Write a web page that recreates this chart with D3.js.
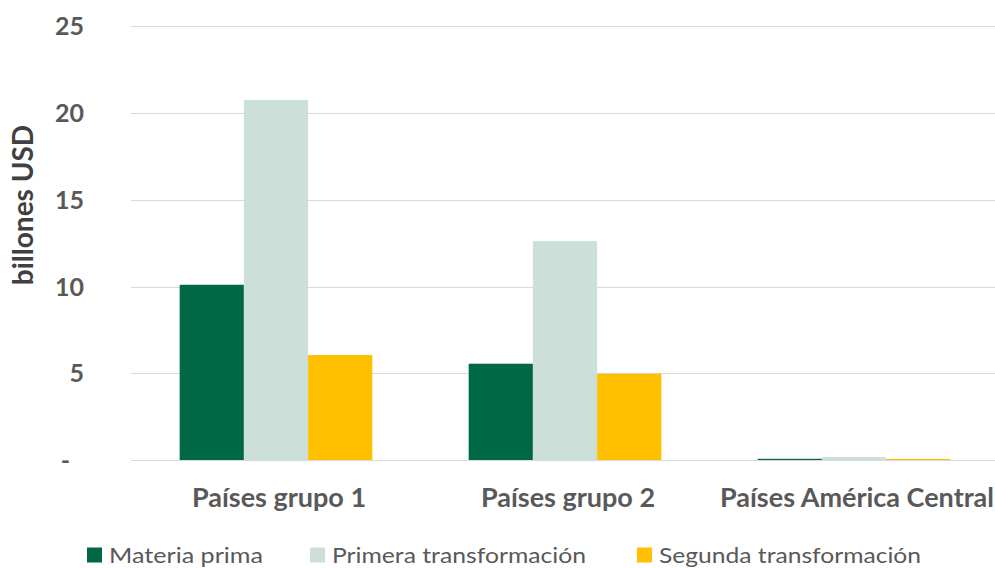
<!DOCTYPE html>
<html><head><meta charset="utf-8">
<script src="https://cdn.jsdelivr.net/npm/d3@7"></script>
<style>body{margin:0;background:#fff}svg{display:block}text{font-family:Lato,"Open Sans",sans-serif}</style>
</head><body><svg id="c" width="995" height="568"></svg>
<script>
const categories = ["Países grupo 1", "Países grupo 2", "Países América Central"];
const seriesNames = ["Materia prima", "Primera transformación", "Segunda transformación"];
const materiaPrima = [10.1, 5.55, 0.07];
const primeraTransformacion = [20.75, 12.62, 0.17];
const segundaTransformacion = [6.05, 4.97, 0.06];
const yTicks = [0, 5, 10, 15, 20, 25];
const colors = ["#006845", "#CCE0D9", "#FFC000"];

const series = [materiaPrima, primeraTransformacion, segundaTransformacion];
const svg = d3.select("#c");
const x0 = d3.scaleBand().domain(categories).range([131.5, 998.5]).paddingInner(0).paddingOuter(0);
const y = d3.scaleLinear().domain([0, 25]).range([460, 26.25]);
const bw = x0.bandwidth() / 4.5;

// grid
svg.append("g").selectAll("line").data(yTicks).join("line")
  .attr("x1", 131).attr("x2", 995)
  .attr("y1", d => Math.round(y(d)) + 0.5).attr("y2", d => Math.round(y(d)) + 0.5)
  .attr("stroke", "#D9D9D9").attr("stroke-width", 1);

// y tick labels
svg.append("g").selectAll("text").data(yTicks).join("text")
  .attr("x", d => d === 0 ? 70 : 84).attr("y", d => y(d)).attr("dy", "0.36em")
  .attr("text-anchor", "end").attr("font-size", 25).attr("font-weight", "bold").attr("fill", "#595959")
  .text(d => d === 0 ? "-" : d);

// y title
svg.append("text").attr("transform", "translate(33,205) rotate(-90)")
  .attr("text-anchor", "middle").attr("font-size", 28).attr("font-weight", "bold").attr("fill", "#404040")
  .text("billones USD");

// bars
series.forEach((vals, si) => {
  svg.append("g").selectAll("rect").data(vals).join("rect")
    .attr("x", (d, i) => x0(categories[i]) + bw * 0.75 + si * bw)
    .attr("width", bw)
    .attr("y", d => y(d))
    .attr("height", d => y(0) - y(d))
    .attr("fill", colors[si]);
});

// category labels
svg.append("g").selectAll("text").data(categories).join("text")
  .attr("x", d => x0(d) + x0.bandwidth() / 2 + 3).attr("y", 507)
  .attr("text-anchor", "middle").attr("font-size", 27).attr("font-weight", "bold").attr("fill", "#595959")
  .text(d => d);

// legend
const legX = [87, 310, 637];
const legW = [154, 254, 262];
const leg = svg.append("g").selectAll("g").data(seriesNames).join("g")
  .attr("transform", (d, i) => `translate(${legX[i]},555)`);
leg.append("rect").attr("x", 0).attr("y", -7.5).attr("width", 15).attr("height", 15).attr("fill", (d, i) => colors[i]);
leg.append("text").attr("x", 22).attr("y", 7.5).attr("font-size", 22).attr("fill", "#595959")
  .attr("textLength", (d, i) => legW[i]).attr("lengthAdjust", "spacingAndGlyphs").text(d => d);
</script></body></html>
